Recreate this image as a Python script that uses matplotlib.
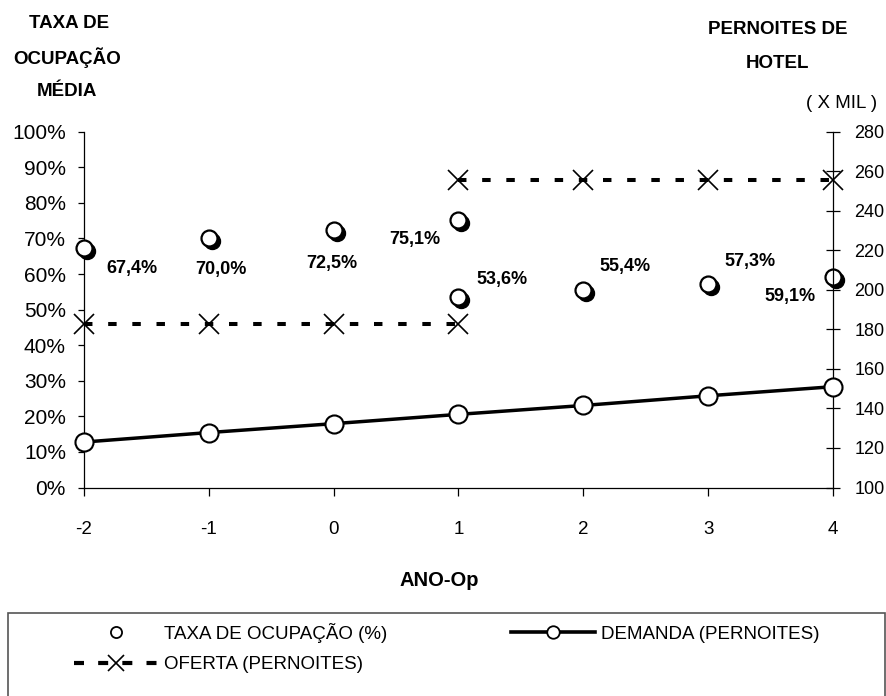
import matplotlib
matplotlib.use('Agg')
import matplotlib.pyplot as plt
from matplotlib.lines import Line2D
from matplotlib.patches import Rectangle
from matplotlib.transforms import offset_copy

# dados
anos = [-2, -1, 0, 1, 2, 3, 4]
anos_antes = [-2, -1, 0, 1]
anos_depois = [1, 2, 3, 4]
taxa_antes = [67.4, 70.0, 72.5, 75.1]
taxa_depois = [53.6, 55.4, 57.3, 59.1]
demanda = [123.0, 127.8, 132.3, 137.0, 141.5, 146.4, 151.0]
oferta_antes = [182.5, 182.5, 182.5, 182.5]
oferta_depois = [255.5, 255.5, 255.5, 255.5]

# deslocamento dos rótulos (pixels)
desloc_antes = [(48, -21), (12, -31), (-2, -34), (-44, -19)]
desloc_depois = [(44, 17), (42, 24), (42, 22), (-43, -19)]

FONTE = ['Liberation Sans', 'DejaVu Sans']
plt.rcParams['font.family'] = FONTE
plt.rcParams['axes.unicode_minus'] = False

W, H = 887, 696
fig = plt.figure(figsize=(W / 100, H / 100), dpi=100)
ax = fig.add_axes([84 / W, 1 - 487.5 / H, (833 - 84) / W, (487.5 - 131.7) / H])
ax2 = ax.twinx()

ax.set_xlim(-2, 4)
ax.set_ylim(0, 100)
ax2.set_ylim(100, 280)
ax.set_xticks(anos)
ax.set_yticks(range(0, 101, 10))
ax.set_yticklabels([f'{v}%' for v in range(0, 101, 10)], fontsize=15)
ax.set_xticklabels([str(a) for a in anos], fontsize=13.5)
ax2.set_yticks(range(100, 281, 20))
ax2.set_yticklabels([str(v) for v in range(100, 281, 20)], fontsize=13)

for a in (ax, ax2):
    a.spines['top'].set_visible(False)
    for s in a.spines.values():
        s.set_linewidth(0.9)
ax.spines['right'].set_visible(False)
ax2.spines['left'].set_visible(False)
ax2.spines['bottom'].set_visible(False)
ax.tick_params(axis='y', direction='out', length=4, width=0.9, pad=9)
ax.tick_params(axis='x', direction='out', length=6, width=0.9, pad=18)
ax2.tick_params(axis='y', direction='inout', length=10, width=0.9, pad=10.5)

# taxa de ocupação: círculos com sombra
sombra = offset_copy(ax.transData, fig=fig, x=3, y=-3, units='dots')
for xs, ys in ((anos_antes, taxa_antes), (anos_depois, taxa_depois)):
    ax.plot(xs, ys, ls='none', marker='o', ms=11.5, mfc='black', mec='black',
            transform=sombra, clip_on=False, zorder=3)
    ax.plot(xs, ys, ls='none', marker='o', ms=11.5, mfc='white', mec='black',
            mew=1.6, clip_on=False, zorder=4)

for xs, ys, desl in ((anos_antes, taxa_antes, desloc_antes),
                     (anos_depois, taxa_depois, desloc_depois)):
    for x, y, d in zip(xs, ys, desl):
        ax.annotate(f'{y:.1f}%'.replace('.', ','), (x, y), xytext=d,
                    textcoords='offset pixels', ha='center', va='center',
                    fontsize=13, fontweight='bold')

# oferta
for ys, xs in ((oferta_antes, anos_antes), (oferta_depois, anos_depois)):
    ax2.plot(xs, ys, color='black', lw=2.9, dashes=(2.1, 3.9), marker='x',
             ms=15, mew=1.2, clip_on=False, zorder=3)

# demanda
ax2.plot(anos, demanda, color='black', lw=2.5, marker='o', ms=13,
         mfc='white', mec='black', mew=1.5, clip_on=False, zorder=4)

# títulos dos eixos
for txt, x, y in (('TAXA DE', 69, 24), ('OCUPAÇÃO', 67.5, 58), ('MÉDIA', 67, 92),
                  ('PERNOITES DE', 778, 29), ('HOTEL', 778, 63)):
    fig.text(x / W, 1 - y / H, txt, ha='center', va='center',
             fontsize=13.5, fontweight='bold')
fig.text(842 / W, 1 - 103 / H, '( X MIL )', ha='center', va='center', fontsize=13.5)
fig.text(439 / W, 1 - 580 / H, 'ANO-Op', ha='center', va='center',
         fontsize=14.5, fontweight='bold')

# legenda
fig.patches.append(Rectangle((8 / W, 1 - 720 / H), 877 / W, (720 - 613) / H,
                             transform=fig.transFigure, fill=False,
                             edgecolor='#555555', lw=1.2))
h_taxa = Line2D([], [], ls='none', marker='o', ms=8, mfc='white', mec='black', mew=1.3)
h_oferta = Line2D([], [], color='black', lw=3, dashes=(2.4, 3.4), marker='x',
                  ms=12, mew=1.2)
h_demanda = Line2D([], [], color='black', lw=2.6, marker='o', ms=9,
                   mfc='white', mec='black', mew=1.3)
fig.legend([h_taxa, h_oferta, h_demanda],
           ['TAXA DE OCUPAÇÃO (%)', 'OFERTA (PERNOITES)', 'DEMANDA (PERNOITES)'],
           ncol=2, frameon=False, loc='upper left',
           bbox_to_anchor=(74 / W, 1 - 623 / H), fontsize=13.5,
           handlelength=4.48, handletextpad=0.32, columnspacing=6.6,
           labelspacing=0.7, borderpad=0, borderaxespad=0)

fig.savefig('out.png', dpi=100)
